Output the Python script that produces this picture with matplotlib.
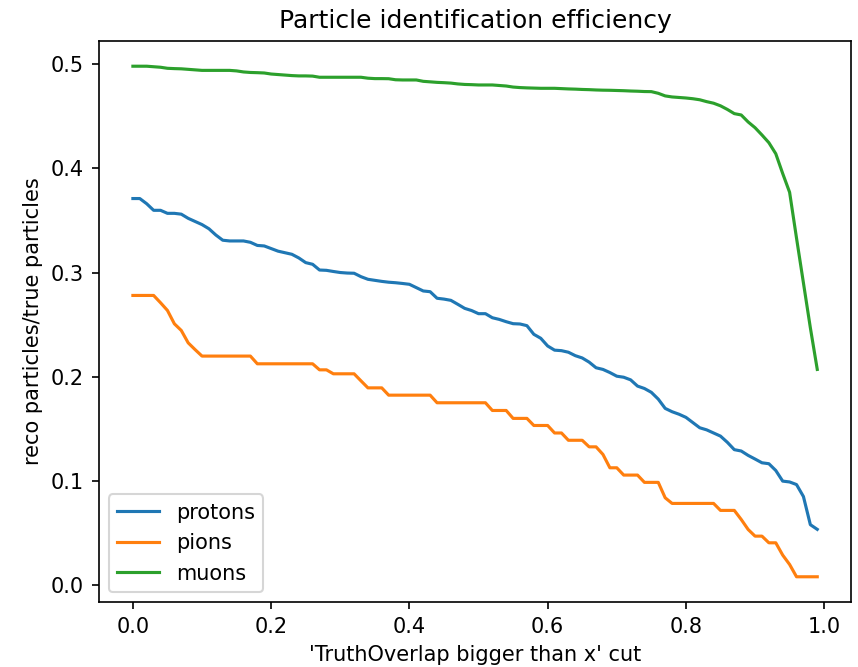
import numpy as np
import matplotlib
matplotlib.use("Agg")
import matplotlib.pyplot as plt

cuts = [round(i * 0.01, 2) for i in range(100)]

protons = [
    0.371, 0.371, 0.366, 0.3597, 0.3597, 0.3568, 0.3568, 0.356, 0.352, 0.349,
    0.346, 0.342, 0.336, 0.331, 0.3303, 0.3303, 0.3303, 0.329, 0.326, 0.3255,
    0.323, 0.3205, 0.319, 0.3175, 0.314, 0.3095, 0.3079, 0.3024, 0.3021, 0.301,
    0.300, 0.2995, 0.2993, 0.296, 0.2935, 0.2925, 0.2915, 0.2907, 0.2902, 0.2895,
    0.2887, 0.2855, 0.2823, 0.2816, 0.2753, 0.2745, 0.2733, 0.2695, 0.2656, 0.2635,
    0.2605, 0.2605, 0.2566, 0.255, 0.2528, 0.2509, 0.2506, 0.249, 0.2407, 0.2369,
    0.2295, 0.2255, 0.225, 0.2235, 0.2202, 0.218, 0.214, 0.2086, 0.207, 0.204,
    0.2005, 0.1995, 0.197, 0.191, 0.1887, 0.185, 0.1785, 0.1696, 0.1664, 0.164,
    0.161, 0.156, 0.151, 0.149, 0.146, 0.143, 0.137, 0.130, 0.1287, 0.1245,
    0.121, 0.1174, 0.1165, 0.110, 0.0998, 0.099, 0.0965, 0.085, 0.058, 0.0535,
]

pions = [
    0.278, 0.278, 0.278, 0.278, 0.271, 0.2636, 0.2508, 0.2444, 0.2325, 0.226,
    0.2198, 0.2198, 0.2198, 0.2198, 0.2198, 0.2198, 0.2198, 0.2198, 0.2124, 0.2124,
    0.2124, 0.2124, 0.2124, 0.2124, 0.2124, 0.2124, 0.2124, 0.2066, 0.2066, 0.2028,
    0.2028, 0.2028, 0.2028, 0.196, 0.1893, 0.1893, 0.1893, 0.1823, 0.1823, 0.1823,
    0.1823, 0.1823, 0.1823, 0.1823, 0.175, 0.175, 0.175, 0.175, 0.175, 0.175,
    0.175, 0.175, 0.1676, 0.1676, 0.1676, 0.160, 0.160, 0.160, 0.1532, 0.1532,
    0.1532, 0.146, 0.146, 0.139, 0.139, 0.139, 0.1327, 0.1327, 0.1254, 0.1126,
    0.1126, 0.1056, 0.1056, 0.1056, 0.0986, 0.0986, 0.0986, 0.0838, 0.0784, 0.0784,
    0.0784, 0.0784, 0.0784, 0.0784, 0.0784, 0.0717, 0.0717, 0.0717, 0.063, 0.0534,
    0.047, 0.047, 0.0406, 0.0406, 0.0288, 0.0198, 0.008, 0.008, 0.008, 0.008,
]

muons = [
    0.498, 0.498, 0.498, 0.4975, 0.497, 0.496, 0.4957, 0.4955, 0.495, 0.4945,
    0.494, 0.494, 0.494, 0.494, 0.494, 0.4935, 0.4925, 0.492, 0.4918, 0.4915,
    0.4905, 0.490, 0.4895, 0.489, 0.4887, 0.4887, 0.4885, 0.4874, 0.4874, 0.4874,
    0.4874, 0.4874, 0.4874, 0.4874, 0.4865, 0.4861, 0.4861, 0.486, 0.485, 0.4848,
    0.4848, 0.4848, 0.4835, 0.483, 0.4825, 0.4822, 0.4818, 0.481, 0.4805, 0.4803,
    0.480, 0.480, 0.480, 0.4795, 0.479, 0.478, 0.4775, 0.4772, 0.477, 0.4768,
    0.4768, 0.4768, 0.4765, 0.4762, 0.476, 0.4757, 0.4755, 0.4752, 0.475, 0.4749,
    0.4747, 0.4745, 0.4742, 0.474, 0.4737, 0.4736, 0.472, 0.4695, 0.4685, 0.468,
    0.4675, 0.4668, 0.4658, 0.464, 0.4625, 0.460, 0.4565, 0.4525, 0.4512, 0.4445,
    0.439, 0.432, 0.4246, 0.414, 0.395, 0.377, 0.333, 0.290, 0.247, 0.207,
]

labels = ["protons", "pions", "muons"]

fig = plt.figure(figsize=(858 / 150, 667 / 150), dpi=150)
ax = fig.add_axes([0.1150, 0.0970, 0.8774, 0.8420])
for series, lab in zip([protons, pions, muons], labels):
    ax.plot(cuts, series, label=lab)
ax.set_title("Particle identification efficiency")
ax.set_xlabel("'TruthOverlap bigger than x' cut")
ax.set_ylabel("reco particles/true particles")
ax.legend(loc="lower left")
fig.savefig("out.png", dpi=150)
